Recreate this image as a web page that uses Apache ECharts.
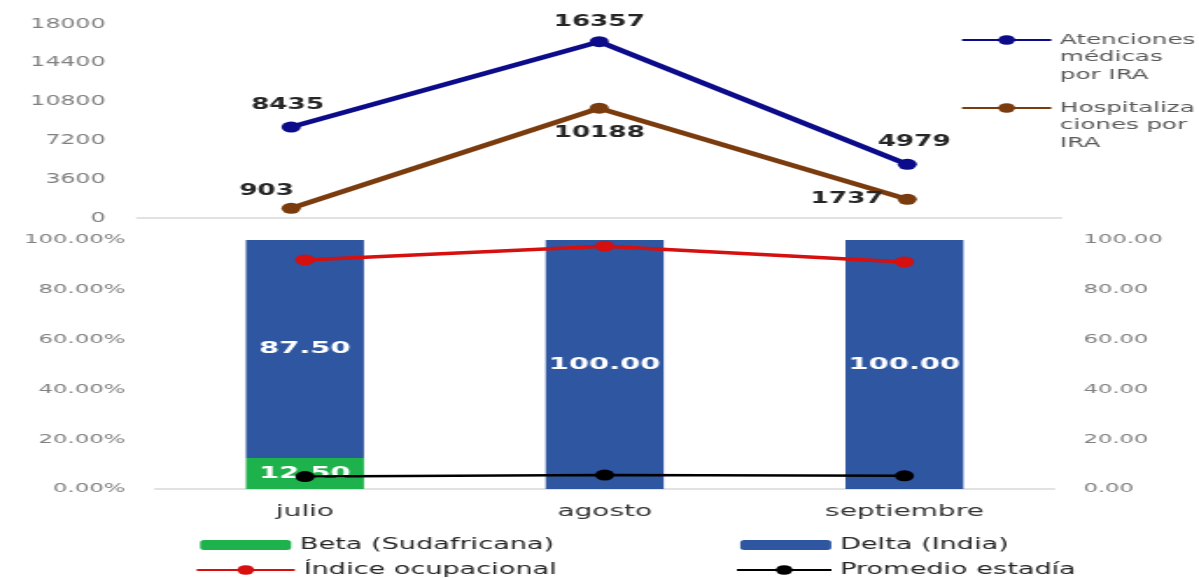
<!DOCTYPE html>
<html>
<head>
<meta charset="utf-8">
<script src="https://cdn.jsdelivr.net/npm/echarts@6/dist/echarts.min.js"></script>
<style>
  html, body { margin: 0; padding: 0; background: #ffffff; overflow: hidden; }
  /* the chart is laid out narrow and widened horizontally */
  #chart { width: 685px; height: 578px; transform: scaleX(1.7504); transform-origin: 0 0; }
</style>
</head>
<body>
<div id="chart"></div>
<script>
// Months
const categories = ['julio', 'agosto', 'septiembre'];

// Upper panel: counts
const atenciones = [8435, 16357, 4979];
const hospitalizaciones = [903, 10188, 1737];

// Lower panel: variant share (%) and hospital indicators
const beta = [12.5, 0, 0];
const delta = [87.5, 100, 100];
const indiceOcupacional = [92.0, 97.5, 91.2];
const promedioEstadia = [5.0, 5.6, 5.3];

// Axis ticks
const countTicks = { min: 0, max: 18000, interval: 3600 };
const pctTicks = { min: 0, max: 100, interval: 20 };

// Where each value label sits around its point
const atencionesLabelPlace = [
  { position: 'top', distance: 9, offset: [-2, 0] },
  { position: 'top', distance: 7, offset: [0, 0] },
  { position: 'top', distance: 9, offset: [4, 0] }
];
const hospitalizacionesLabelPlace = [
  { position: 'top', distance: 4, offset: [-14, 0] },
  { position: 'bottom', distance: 12, offset: [0, 0] },
  { position: 'left', distance: 8, offset: [0, 0] }
];

const FONT = 'DejaVu Sans';
const chart = echarts.init(document.getElementById('chart'));

const withLabels = (values, places) => values.map((v, i) => ({
  value: v,
  label: Object.assign({ show: true }, places[i])
}));

const pointLabel = { color: '#262626', fontSize: 15, fontWeight: 'bold', fontFamily: FONT };
const barLabel = {
  show: true, position: 'inside', color: '#ffffff', fontSize: 16.5, fontWeight: 'bold', fontFamily: FONT,
  formatter: p => (p.value ? p.value.toFixed(2) : '')
};

const sideLegendText = { color: '#595959', fontSize: 14, lineHeight: 17.5, fontFamily: FONT };
const bottomLegendText = { color: '#262626', fontSize: 15.5, fontFamily: FONT };

function legendAt(name, left, top, extra) {
  return Object.assign({
    data: [name], left: left, top: top, padding: 0,
    itemWidth: 52, itemHeight: 10, itemGap: 0,
    textStyle: bottomLegendText, selectedMode: false
  }, extra || {});
}

// two blank lines above keep the first line of the name level with the icon
const wrapSide = lines => '\n\n' + lines.join('\n');

chart.setOption({
  animation: false,
  textStyle: { fontFamily: FONT },
  grid: [
    { left: 78.3, right: 78.7, top: 24, bottom: 360 },
    { left: 88.6, right: 82.7, top: 240, bottom: 89 }
  ],
  legend: [
    legendAt('Atenciones médicas por IRA', 548.6, -3.75,
      { itemWidth: 51, itemHeight: 12, textStyle: sideLegendText,
        formatter: () => wrapSide(['Atenciones', 'médicas', 'por IRA']) }),
    legendAt('Hospitalizaciones por IRA', 548.6, 64.25,
      { itemWidth: 51, itemHeight: 12, textStyle: sideLegendText,
        formatter: () => wrapSide(['Hospitaliza', 'ciones por', 'IRA']) }),
    legendAt('Beta (Sudafricana)', 114.3, 537),
    legendAt('Delta (India)', 422.9, 537),
    legendAt('Índice ocupacional', 111.4, 562, { itemWidth: 56, itemHeight: 12 }),
    legendAt('Promedio estadía', 420, 562, { itemWidth: 54, itemHeight: 12 })
  ],
  xAxis: [
    {
      type: 'category', gridIndex: 0, data: categories,
      axisLine: { lineStyle: { color: '#d9d9d9', width: 1.5 } },
      axisTick: { show: false }, axisLabel: { show: false }
    },
    {
      type: 'category', gridIndex: 1, data: categories,
      axisLine: { lineStyle: { color: '#d9d9d9', width: 1.5 } },
      axisTick: { show: false },
      axisLabel: { color: '#333333', fontSize: 16, margin: 15, fontFamily: FONT }
    }
  ],
  yAxis: [
    {
      type: 'value', gridIndex: 0, min: countTicks.min, max: countTicks.max, interval: countTicks.interval,
      axisLine: { show: false }, axisTick: { show: false }, splitLine: { show: false },
      axisLabel: { color: '#808080', fontSize: 13.5, margin: 18, fontFamily: FONT,
        formatter: v => String(v) }
    },
    {
      type: 'value', gridIndex: 1, min: pctTicks.min, max: pctTicks.max, interval: pctTicks.interval,
      axisLine: { show: false }, axisTick: { show: false }, splitLine: { show: false },
      axisLabel: { color: '#808080', fontSize: 13, margin: 17, fontFamily: FONT,
        formatter: v => v.toFixed(2) + '%' }
    },
    {
      type: 'value', gridIndex: 1, position: 'right',
      min: pctTicks.min, max: pctTicks.max, interval: pctTicks.interval,
      axisLine: { show: false }, axisTick: { show: false }, splitLine: { show: false },
      axisLabel: { color: '#808080', fontSize: 13, margin: 16.6, fontFamily: FONT,
        formatter: v => v.toFixed(2) }
    }
  ],
  series: [
    {
      name: 'Atenciones médicas por IRA', type: 'line', xAxisIndex: 0, yAxisIndex: 0,
      data: withLabels(atenciones, atencionesLabelPlace),
      color: '#0c0c8a', symbol: 'circle', symbolSize: 11,
      lineStyle: { width: 4.5, color: '#0c0c8a' },
      label: pointLabel, z: 3
    },
    {
      name: 'Hospitalizaciones por IRA', type: 'line', xAxisIndex: 0, yAxisIndex: 0,
      data: withLabels(hospitalizaciones, hospitalizacionesLabelPlace),
      color: '#7a3c0e', symbol: 'circle', symbolSize: 11,
      lineStyle: { width: 4.5, color: '#7a3c0e' },
      label: pointLabel, z: 3
    },
    {
      name: 'Beta (Sudafricana)', type: 'bar', xAxisIndex: 1, yAxisIndex: 1, stack: 'variantes',
      data: beta, barWidth: 67.4, color: '#1eb24c', label: barLabel
    },
    {
      name: 'Delta (India)', type: 'bar', xAxisIndex: 1, yAxisIndex: 1, stack: 'variantes',
      data: delta, barWidth: 67.4, color: '#2f56a1', label: barLabel
    },
    {
      name: 'Índice ocupacional', type: 'line', xAxisIndex: 1, yAxisIndex: 2,
      data: indiceOcupacional, color: '#d60f0f', symbol: 'circle', symbolSize: 11,
      lineStyle: { width: 3.5, color: '#d60f0f' }, z: 4
    },
    {
      name: 'Promedio estadía', type: 'line', xAxisIndex: 1, yAxisIndex: 2,
      data: promedioEstadia, color: '#000000', symbol: 'circle', symbolSize: 11,
      lineStyle: { width: 2.5, color: '#000000' }, z: 4
    }
  ]
});
</script>
</body>
</html>
